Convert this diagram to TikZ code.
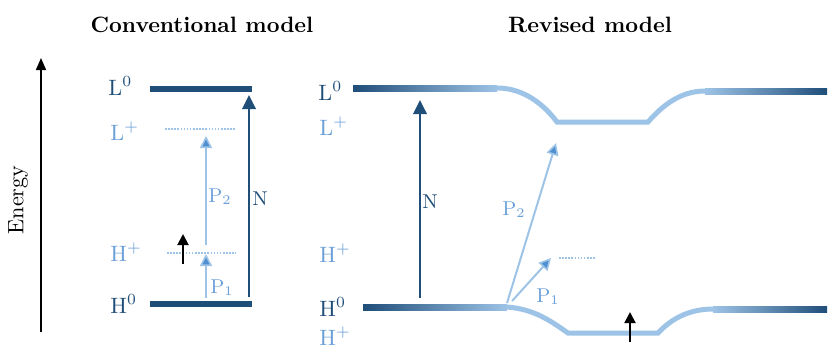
\documentclass[tikz,border=0pt]{standalone}
\usepackage{tikz}
\usetikzlibrary{arrows.meta}
\definecolor{LevelDark}{HTML}{1F4E79}
\definecolor{LevelLight}{HTML}{9DC3E6}
\definecolor{ProbeMid}{HTML}{4F8FD0}
\definecolor{LabelLight}{HTML}{6A9FD8}

\begin{document}
\begin{tikzpicture}[
    x=0.45pt, y=-0.45pt,
    lbl/.style={anchor=base west, inner sep=0pt},
    neutral/.style={lbl, text=LevelDark},
    charged/.style={lbl, text=LabelLight},
    tag/.style={anchor=base west, inner sep=0pt, font=\small},
    level/.style={line width=2.7pt, LevelDark},
    cation/.style={line width=2.25pt, LevelLight},
    ghost/.style={line width=0.7pt, LevelLight, dash pattern=on 0.7pt off 0.7pt},
    narrow/.style={-{Triangle[length=6.3pt,width=6pt]}, line width=1.1pt, LevelDark},
    probe/.style={-{Triangle[length=5.4pt,width=5.4pt,fill=ProbeMid,line width=0.7pt]}, line width=0.9pt, LevelLight},
    spin/.style={-{Triangle[length=5pt,width=5pt]}, line width=0.9pt, black}
  ]
    \useasboundingbox (0,0) rectangle (829,347);

    % titles and energy axis
    \node[font=\bfseries, anchor=base] (tConv) at (202,32) {Conventional model};
    \node[font=\bfseries, anchor=base] (tRev) at (590,32) {Revised model};
    \coordinate (eBot) at (41,332);
    \coordinate (eTop) at (41,58);
    \draw[-{Triangle[length=5.4pt,width=4.5pt]}, line width=0.7pt] (eBot) -- (eTop);
    \node[rotate=90] (eLbl) at (18,200) {Energy};

    % conventional model
    \node[neutral] (cL0) at (108,95) {L$^0$};
    \node[charged] (cLp) at (110,140) {L$^+$};
    \node[charged] (cHp) at (110,261) {H$^+$};
    \node[neutral] (cH0) at (110,313) {H$^0$};
    \draw[level] (150,89) -- (252,89);
    \draw[level] (150,304) -- (252,304);
    \draw[ghost] (165,129) -- (235,129);
    \draw[ghost] (167,253) -- (236,253);

    \coordinate (cNa) at (249,297);
    \coordinate (cNb) at (249,95);
    \coordinate (cP1a) at (206,298);
    \coordinate (cP1b) at (206,254);
    \coordinate (cP2a) at (206,245);
    \coordinate (cP2b) at (206,136);
    \coordinate (cSa) at (183,264);
    \coordinate (cSb) at (183,234);
    \draw[narrow] (cNa) -- (cNb);
    \draw[probe] (cP1a) -- (cP1b);
    \draw[probe] (cP2a) -- (cP2b);
    \draw[spin] (cSa) -- (cSb);
    \node[tag, text=LevelDark] (cN) at (252,205) {N};
    \node[tag, text=LabelLight] (cP1) at (210,293) {P$_1$};
    \node[tag, text=LabelLight] (cP2) at (208,202) {P$_2$};

    % revised model
    \node[neutral] (rL0) at (318,100) {L$^0$};
    \node[charged] (rLp) at (319,135) {L$^+$};
    \node[charged] (rHp) at (319,262) {H$^+$};
    \node[neutral] (rH0) at (319,316) {H$^0$};
    \node[charged] (rHq) at (319,345) {H$^+$};

    \shade[left color=LevelDark, middle color=LevelDark, right color=LevelLight]
      (353,85) rectangle (497,91);
    \draw[cation] (497,88) .. controls (525,88) and (545,106) .. (557,122)
      -- (648,122) .. controls (662,106) and (680,91) .. (705,91);
    \shade[left color=LevelLight, middle color=LevelDark, right color=LevelDark]
      (705,88) rectangle (827,94);

    \shade[left color=LevelDark, middle color=LevelDark, right color=LevelLight]
      (363,304) rectangle (507,310);
    \draw[cation] (507,307) .. controls (535,309) and (552,322) .. (568,333)
      -- (658,333) .. controls (672,318) and (690,309) .. (713,309);
    \shade[left color=LevelLight, middle color=LevelDark, right color=LevelDark]
      (713,306) rectangle (827,312);
    \draw[ghost] (559,258) -- (595,258);

    \coordinate (rNa) at (420,298);
    \coordinate (rNb) at (420,100);
    \coordinate (rP1a) at (512,301);
    \coordinate (rP1b) at (551,258);
    \coordinate (rP2a) at (507,303);
    \coordinate (rP2b) at (556,143);
    \coordinate (rSa) at (630,342);
    \coordinate (rSb) at (630,312);
    \draw[narrow] (rNa) -- (rNb);
    \draw[probe] (rP1a) -- (rP1b);
    \draw[probe] (rP2a) -- (rP2b);
    \draw[spin] (rSa) -- (rSb);
    \node[tag, text=LevelDark] (rN) at (422,208) {N};
    \node[tag, text=LabelLight] (rP1) at (536,302) {P$_1$};
    \node[tag, text=LabelLight] (rP2) at (502,215) {P$_2$};
  \end{tikzpicture}
\end{document}
